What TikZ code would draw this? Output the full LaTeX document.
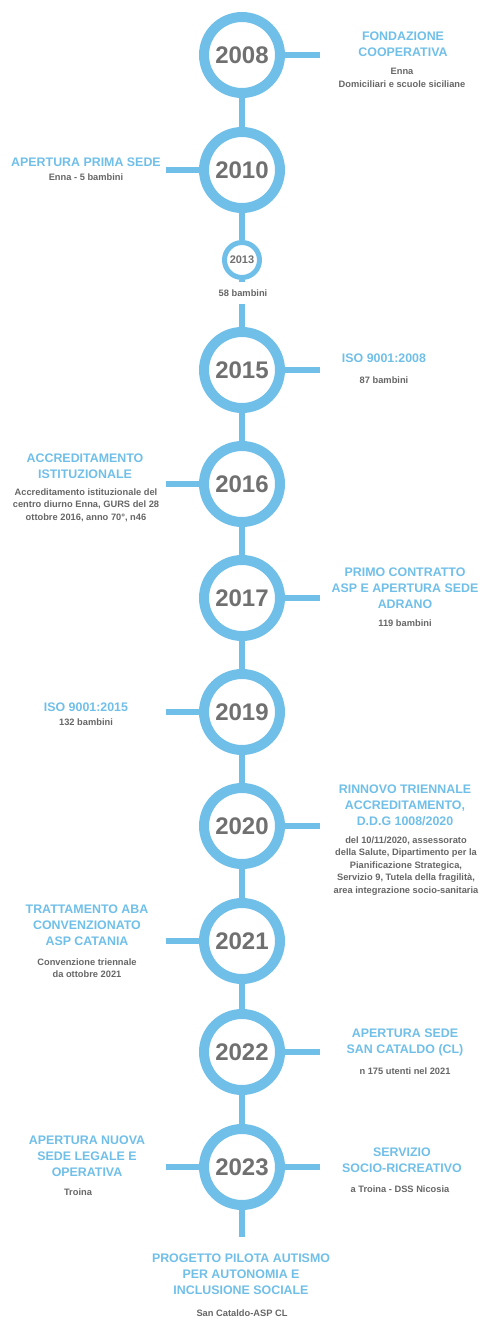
\documentclass[tikz,border=0pt]{standalone}
\usepackage{fontspec}
\setmainfont{Liberation Sans}
\definecolor{tlblue}{RGB}{112,191,232}
\definecolor{yrgray}{RGB}{112,112,112}
\definecolor{subgray}{RGB}{102,102,102}
\tikzset{
  yr/.style={circle, draw=tlblue, line width=10pt, fill=white, minimum size=76pt, inner sep=0pt,
    text=yrgray, font=\fontsize{24}{24}\selectfont\bfseries},
  yrsmall/.style={yr, line width=5pt, minimum size=35pt, font=\fontsize{11}{11}\selectfont\bfseries},
  spine/.style={draw=tlblue, line width=6.5pt},
  arm/.style={draw=tlblue, line width=6.5pt},
  ttl/.style={inner sep=0pt, align=center, text=tlblue, font=\fontsize{12.4}{16}\selectfont\bfseries},
  sub/.style={inner sep=0pt, align=center, text=subgray, font=\fontsize{9.3}{12.5}\selectfont\bfseries},
}
\begin{document}
\begin{tikzpicture}[x=1pt, y=1pt]
    \useasboundingbox (0,0) rectangle (480,-1318);
    \coordinate (armL) at (166,0);
    \coordinate (armR) at (320,0);
    \coordinate (spineend) at (242,-1237);
    % years
    \node[yr] (y2008) at (242,-55) {2008};
    \node[yr] (y2010) at (242,-170) {2010};
    \node[yrsmall] (y2013) at (242,-260) {2013};
    \node[yr] (y2015) at (242,-370) {2015};
    \node[yr] (y2016) at (242,-484) {2016};
    \node[yr] (y2017) at (242,-598) {2017};
    \node[yr] (y2019) at (242,-712) {2019};
    \node[yr] (y2020) at (242,-826) {2020};
    \node[yr] (y2021) at (242,-941) {2021};
    \node[yr] (y2022) at (242,-1052) {2022};
    \node[yr] (y2023) at (242,-1167) {2023};
    \draw[spine] (y2008) -- (y2010) -- (y2013) -- (y2015) -- (y2016) -- (y2017) -- (y2019)
        -- (y2020) -- (y2021) -- (y2022) -- (y2023) -- (spineend);
    % arms
    \draw[arm] (y2008) -- (y2008 -| armR);
    \draw[arm] (y2010) -- (y2010 -| armL);
    \draw[arm] (y2015) -- (y2015 -| armR);
    \draw[arm] (y2016) -- (y2016 -| armL);
    \draw[arm] (y2017) -- (y2017 -| armR);
    \draw[arm] (y2019) -- (y2019 -| armL);
    \draw[arm] (y2020) -- (y2020 -| armR);
    \draw[arm] (y2021) -- (y2021 -| armL);
    \draw[arm] (y2022) -- (y2022 -| armR);
    \draw[arm] (y2023) -- (y2023 -| armL);
    \draw[arm] (y2023) -- (y2023 -| armR);
    % texts
    \node[ttl] (t2008) at (403,-44) {FONDAZIONE\\COOPERATIVA};
    \node[sub] (s2008) at (402,-78) {Enna\\Domiciliari e scuole siciliane};
    \node[ttl] (t2010) at (86,-162) {APERTURA PRIMA SEDE};
    \node[sub] (s2010) at (86,-177) {Enna - 5 bambini};
    \node[sub, fill=white, inner xsep=3pt, inner ysep=8pt] (s2013) at (243,-293) {58 bambini};
    \node[ttl] (t2015) at (384,-358) {ISO 9001:2008};
    \node[sub] (s2015) at (384,-380) {87 bambini};
    \node[ttl] (t2016) at (85,-466) {ACCREDITAMENTO\\ISTITUZIONALE};
    \node[sub] (s2016) at (86,-505) {Accreditamento istituzionale del\\centro diurno Enna, GURS del 28\\ottobre 2016, anno 70°, n46};
    \node[ttl] (t2017) at (405,-588) {PRIMO CONTRATTO\\ASP E APERTURA SEDE\\ADRANO};
    \node[sub] (s2017) at (405,-623) {119 bambini};
    \node[ttl] (t2019) at (86,-707) {ISO 9001:2015};
    \node[sub] (s2019) at (86,-722) {132 bambini};
    \node[ttl] (t2020) at (405,-805) {RINNOVO TRIENNALE\\ACCREDITAMENTO,\\D.D.G 1008/2020};
    \node[sub] (s2020) at (406,-866) {del 10/11/2020, assessorato\\della Salute, Dipartimento per la\\Pianificazione Strategica,\\Servizio 9, Tutela della fragilità,\\area integrazione socio-sanitaria};
    \node[ttl] (t2021) at (87,-925) {TRATTAMENTO ABA\\CONVENZIONATO\\ASP CATANIA};
    \node[sub] (s2021) at (87,-968) {Convenzione triennale\\da ottobre 2021};
    \node[ttl] (t2022) at (405,-1042) {APERTURA SEDE\\SAN CATALDO (CL)};
    \node[sub] (s2022) at (405,-1071) {n 175 utenti nel 2021};
    \node[ttl] (t2023l) at (87,-1156) {APERTURA NUOVA\\SEDE LEGALE E\\OPERATIVA};
    \node[sub] (s2023l) at (78,-1192) {Troina};
    \node[ttl] (t2023r) at (402,-1160) {SERVIZIO\\SOCIO-RICREATIVO};
    \node[sub] (s2023r) at (400,-1189) {a Troina - DSS Nicosia};
    \node[ttl] (tpilot) at (241,-1274) {PROGETTO PILOTA AUTISMO\\PER AUTONOMIA E\\INCLUSIONE SOCIALE};
    \node[sub] (spilot) at (242,-1313) {San Cataldo-ASP CL};
\end{tikzpicture}
\end{document}
